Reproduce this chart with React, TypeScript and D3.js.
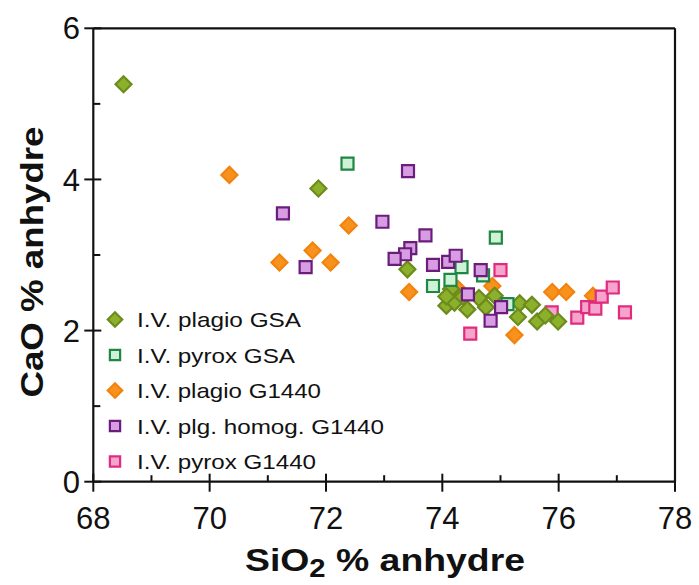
import React from "react";
import * as d3 from "d3";

// ---- data (SiO2 %, CaO %) ----
const plagioGSA: [number, number][] = [
  [68.52, 5.26], [71.87, 3.88], [73.40, 2.81], [74.07, 2.33], [74.21, 2.37],
  [74.43, 2.28], [74.63, 2.43], [74.75, 2.31], [74.90, 2.46], [74.15, 2.55],
  [74.35, 2.45], [74.07, 2.45], [75.33, 2.36], [75.54, 2.34], [75.30, 2.18],
  [75.63, 2.12], [75.77, 2.20], [75.99, 2.12],
];
const pyroxGSA: [number, number][] = [
  [72.37, 4.21], [74.92, 3.23], [74.33, 2.84], [73.84, 2.59], [74.14, 2.67],
  [74.70, 2.73], [75.12, 2.35],
];
const plagioG1440: [number, number][] = [
  [70.34, 4.06], [72.39, 3.39], [71.77, 3.06], [71.20, 2.90], [72.08, 2.90],
  [73.43, 2.51], [74.86, 2.59], [74.27, 2.55], [75.24, 1.94], [75.89, 2.51],
  [76.13, 2.51], [76.59, 2.46],
];
const plgHomogG1440: [number, number][] = [
  [71.26, 3.55], [71.65, 2.84], [72.97, 3.44], [73.41, 4.11], [73.71, 3.26],
  [73.45, 3.09], [73.36, 3.01], [73.18, 2.95], [73.84, 2.87], [74.10, 2.91],
  [74.23, 2.99], [74.66, 2.80], [74.44, 2.48], [75.01, 2.31], [74.83, 2.13],
];
const pyroxG1440: [number, number][] = [
  [75.00, 2.80], [74.48, 1.96], [75.88, 2.24], [76.32, 2.17], [76.49, 2.31],
  [76.63, 2.29], [76.74, 2.45], [76.93, 2.57], [77.14, 2.24],
];

const xTicks = [68, 70, 72, 74, 76, 78];
const xMinor = [69, 71, 73, 75, 77];
const yTicks = [0, 2, 4, 6];
const yMinor = [1, 3, 5];

const legendLabels = [
  "I.V. plagio GSA",
  "I.V. pyrox GSA",
  "I.V. plagio G1440",
  "I.V. plg. homog. G1440",
  "I.V. pyrox G1440",
];

type Series = {
  data: [number, number][];
  shape: "diamond" | "square";
  fill: string;
  stroke: string;
};

const seriesList: Series[] = [
  { data: plagioGSA, shape: "diamond", fill: "#8cb02c", stroke: "#6c8c1c" },
  { data: pyroxGSA, shape: "square", fill: "#cdf2d6", stroke: "#1f8646" },
  { data: plagioG1440, shape: "diamond", fill: "#f7921c", stroke: "#f3820f" },
  { data: plgHomogG1440, shape: "square", fill: "#d89ce3", stroke: "#6b1d7c" },
  { data: pyroxG1440, shape: "square", fill: "#f6a4cc", stroke: "#e12b7e" },
];
// drawing order (back to front)
const drawOrder = [2, 4, 0, 1, 3];
const legendTextLen = [164, 158, 184, 247, 179];

const FONT = "'Liberation Sans', Arial, Helvetica, sans-serif";

export default function App() {
  const x = d3.scaleLinear().domain([68, 78]).range([93.3, 675]);
  const y = d3.scaleLinear().domain([0, 6]).range([481.7, 28.3]);

  const squarePath = d3.symbol().type(d3.symbolSquare).size(144)()!;
  const diamondPath = d3.symbol().type(d3.symbolSquare).size(128)()!;
  const legSquare = d3.symbol().type(d3.symbolSquare).size(105)()!;
  const legDiamond = d3.symbol().type(d3.symbolSquare).size(105)()!;

  const marker = (s: Series, cx: number, cy: number, key: string, legend = false) => {
    const isD = s.shape === "diamond";
    const d = isD ? (legend ? legDiamond : diamondPath) : legend ? legSquare : squarePath;
    return (
      <path
        key={key}
        d={d}
        transform={`translate(${cx},${cy})${isD ? " rotate(45)" : ""}`}
        fill={s.fill}
        stroke={s.stroke}
        strokeWidth={2.2}
      />
    );
  };

  const x0 = x(68);
  const x1 = x(78);
  const y0 = y(0);
  const y1 = y(6);

  return (
    <svg
      width={699}
      height={585}
      style={{ position: "absolute", left: 0, top: 0, background: "#fff" }}
      fontFamily={FONT}
    >
      <rect width={699} height={585} fill="#fff" />
      {/* frame */}
      <line x1={x0} y1={y1} x2={x1} y2={y1} stroke="#111" strokeWidth={2.2} />
      <line x1={x1} y1={y1} x2={x1} y2={y0} stroke="#111" strokeWidth={2.2} />
      <line x1={x0} y1={y1} x2={x0} y2={y0} stroke="#111" strokeWidth={2.2} />
      <line x1={x0} y1={y0} x2={x1} y2={y0} stroke="#111" strokeWidth={2.2} />

      {/* x ticks */}
      {xTicks.map((t) => (
        <g key={"xt" + t}>
          <line x1={x(t)} x2={x(t)} y1={y0 - 8} y2={y0 + 10} stroke="#111" strokeWidth={2} />
          <text x={x(t)} y={529} textAnchor="middle" fontSize={31} fill="#111">
            {t}
          </text>
        </g>
      ))}
      {xMinor.map((t) => (
        <line key={"xm" + t} x1={x(t)} x2={x(t)} y1={y0 - 6.5} y2={y0} stroke="#111" strokeWidth={2} />
      ))}
      {/* y ticks */}
      {yTicks.map((t) => (
        <g key={"yt" + t}>
          <line x1={x0 - 9} x2={x0 + 8} y1={y(t)} y2={y(t)} stroke="#111" strokeWidth={2} />
          <text x={80} y={y(t)} dy="0.36em" textAnchor="end" fontSize={31} fill="#111">
            {t}
          </text>
        </g>
      ))}
      {yMinor.map((t) => (
        <line key={"ym" + t} x1={x0} x2={x0 + 7} y1={y(t)} y2={y(t)} stroke="#111" strokeWidth={2} />
      ))}

      {/* data */}
      {drawOrder.map((si) =>
        seriesList[si].data.map((p, i) => marker(seriesList[si], x(p[0]), y(p[1]), `p${si}-${i}`))
      )}

      {/* legend */}
      {legendLabels.map((lab, i) => {
        const cy = 319.5 + i * 35.5;
        return (
          <g key={"lg" + i}>
            {marker(seriesList[i], 115, cy, "lm" + i, true)}
            <text
              x={137}
              y={cy + 7.5}
              fontSize={21}
              fill="#111"
              textLength={legendTextLen[i]}
              lengthAdjust="spacingAndGlyphs"
            >
              {lab}
            </text>
          </g>
        );
      })}

      {/* axis titles */}
      <text
        x={245}
        y={571}
        fontSize={32}
        fontWeight="bold"
        fill="#111"
        textLength={280}
        lengthAdjust="spacingAndGlyphs"
      >
        SiO
        <tspan fontSize={25} dy={6}>2</tspan>
        <tspan dy={-6}> % anhydre</tspan>
      </text>
      <text
        transform="translate(43,262) rotate(-90)"
        textAnchor="middle"
        fontSize={32}
        fontWeight="bold"
        fill="#111"
        textLength={271}
        lengthAdjust="spacingAndGlyphs"
      >
        CaO % anhydre
      </text>
    </svg>
  );
}
